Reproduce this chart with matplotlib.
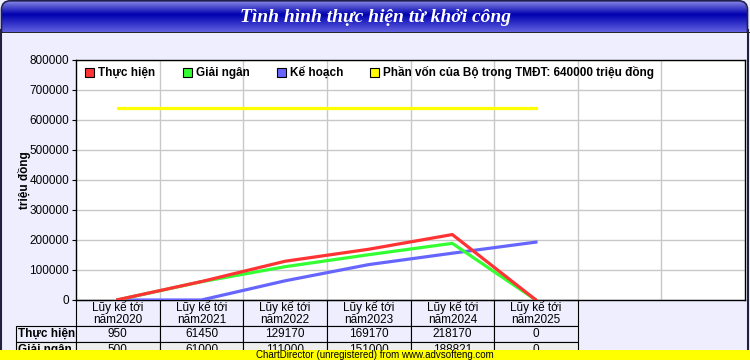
import numpy as np
import matplotlib
matplotlib.use('Agg')
import matplotlib.pyplot as plt
from matplotlib.patches import Rectangle, FancyBboxPatch
from matplotlib.transforms import blended_transform_factory

plt.rcParams['font.family'] = ['Liberation Sans', 'DejaVu Sans']

categories = ['Lũy kế tới\nnăm2020', 'Lũy kế tới\nnăm2021', 'Lũy kế tới\nnăm2022',
              'Lũy kế tới\nnăm2023', 'Lũy kế tới\nnăm2024', 'Lũy kế tới\nnăm2025']
thuc_hien = [950, 61450, 129170, 169170, 218170, 0]
giai_ngan = [500, 61000, 111000, 151000, 188821, 0]
ke_hoach = [0, 0, 64000, 118000, 156000, 193000]
phan_von = [640000] * 6
table_rows = ['Thực hiện', 'Giải ngân']
table_vals = [thuc_hien, giai_ngan]
title = 'Tình hình thực hiện từ khởi công'

W, H = 750, 360
bg = '#EEEEFF'
fig = plt.figure(figsize=(W / 100, H / 100), dpi=100, facecolor=bg)

# title bar with gradient
tax = fig.add_axes([0, 1 - 33 / H, 1, 33 / H])
tax.set_xlim(0, W)
tax.set_ylim(33, 0)
tax.axis('off')
grad = np.linspace(0, 1, 64)
top = np.array([0x90, 0x90, 0xE8]) / 255
mid = np.array([0x00, 0x00, 0xB0]) / 255
bot = np.array([0x60, 0x60, 0xE0]) / 255
cols = []
for g in grad:
    if g < 0.45:
        t = g / 0.45
        cols.append(top * (1 - t) + mid * t)
    else:
        t = (g - 0.45) / 0.55
        cols.append(mid * (1 - t) + bot * t)
img = np.array(cols)[:, None, :]
im = tax.imshow(img, extent=[1, W - 2, 32, 0], aspect='auto')
clip = FancyBboxPatch((2, 1), W - 5, 45, boxstyle='round,pad=0,rounding_size=9',
                      transform=tax.transData, facecolor='none', edgecolor='none')
tax.add_patch(clip)
im.set_clip_path(clip)
tax.add_patch(FancyBboxPatch((1.5, 0.8), W - 4, 45, boxstyle='round,pad=0,rounding_size=9',
                             facecolor='none', edgecolor='#202050', lw=1.2))
tax.plot([0, W], [32.5, 32.5], color='black', lw=1.2)
tax.text(W / 2, 17, title, color='white', ha='center', va='center', fontsize=14,
         family='Liberation Serif', style='italic', fontweight='bold')

# side borders
fig.add_artist(plt.Line2D([0.8 / W, 0.8 / W], [0, 1 - 30 / H], color='#202040', lw=1.5))
fig.add_artist(plt.Line2D([1 - 2 / W, 1 - 2 / W], [0, 1 - 30 / H], color='#202040', lw=1.5))

# main plot area
ax = fig.add_axes([76 / W, 60 / H, 669 / W, 240 / H], facecolor='white')
x = np.arange(len(categories))
ax.plot(x, thuc_hien, color='#FF3333', lw=2.3, zorder=5, label='Thực hiện')
ax.plot(x, giai_ngan, color='#33FF33', lw=2.3, zorder=4, label='Giải ngân')
ax.plot(x, ke_hoach, color='#6666FF', lw=2.3, zorder=3, label='Kế hoạch')
ax.plot(x, phan_von, color='#FFFF00', lw=2.3, zorder=2,
        label='Phần vốn của Bộ trong TMĐT: 640000 triệu đồng')

ax.set_xlim(-0.5, 7.5)
ax.set_ylim(0, 800000)
ax.set_yticks(np.arange(0, 800001, 100000))
ax.set_yticklabels([str(v) for v in range(0, 800001, 100000)], fontsize=8.5)
ax.set_xticks([])
ax.set_xticks(np.arange(0.5, 7.5, 1), minor=True)
ax.tick_params(axis='x', which='minor', length=0)
ax.tick_params(axis='y', length=3, pad=2)
ax.grid(axis='y', color='#C8C8C8', lw=1)
ax.grid(axis='x', which='minor', color='#C8C8C8', lw=1)
ax.set_axisbelow(True)
for s in ax.spines.values():
    s.set_color('black')
    s.set_linewidth(1)
ax.set_ylabel('triệu đồng', fontsize=8.5, fontweight='bold', labelpad=-1)

leg = ax.legend(loc='upper left', ncol=4, frameon=False, fontsize=8.5,
                handlelength=0.8, handleheight=0.8, handletextpad=0.4,
                columnspacing=2.2, bbox_to_anchor=(0.0, 1.01), borderaxespad=0.3)
for h in leg.legend_handles:
    h.set_visible(False)
for t in leg.get_texts():
    t.set_fontweight('bold')
# square legend markers
fig.canvas.draw()
renderer = fig.canvas.get_renderer()
for t, c in zip(leg.get_texts(), ['#FF3333', '#33FF33', '#6666FF', '#FFFF00']):
    bb = t.get_window_extent(renderer)
    fig.add_artist(Rectangle((bb.x0 - 13, (bb.y0 + bb.y1) / 2 - 4.5), 9, 9,
                             transform=None, facecolor=c, edgecolor='black', lw=0.8))

# data table below the axis
tr = blended_transform_factory(ax.transData, ax.transAxes)
px = 1 / 240.0
rows_y = [(0, -26 * px), (-26 * px, -42 * px), (-42 * px, -58 * px)]
label_x0 = -0.5 - 60 / 83.6
for i, cat in enumerate(categories):
    y0, y1 = rows_y[0]
    ax.add_patch(Rectangle((i - 0.5, y1), 1, y0 - y1, transform=tr, clip_on=False,
                           facecolor=bg, edgecolor='black', lw=0.8))
    ax.text(i, (y0 + y1) / 2 - 0.5 * px, cat, transform=tr, ha='center', va='center',
            fontsize=8.5, linespacing=1.0, clip_on=False)
row_bg = ['#EEEEFF', '#EEEEEE']
for r, (name, vals) in enumerate(zip(table_rows, table_vals)):
    y0, y1 = rows_y[r + 1]
    ax.add_patch(Rectangle((label_x0, y1), -0.5 - label_x0, y0 - y1, transform=tr,
                           clip_on=False, facecolor=row_bg[r], edgecolor='black', lw=0.8))
    ax.text(label_x0 + 0.03, (y0 + y1) / 2, name, transform=tr, ha='left', va='center',
            fontsize=8.5, fontweight='bold', clip_on=False)
    for i, v in enumerate(vals):
        ax.add_patch(Rectangle((i - 0.5, y1), 1, y0 - y1, transform=tr, clip_on=False,
                               facecolor=row_bg[r], edgecolor='black', lw=0.8))
        ax.text(i, (y0 + y1) / 2, str(v), transform=tr, ha='center', va='center',
                fontsize=8.5, clip_on=False)

# watermark banner
fig.add_artist(Rectangle((0, 0), 1, 10 / H, transform=fig.transFigure,
                         facecolor='#FFFF00', edgecolor='none', zorder=10))
fig.text(0.5, 5 / H, 'ChartDirector (unregistered) from www.advsofteng.com',
         ha='center', va='center', fontsize=7, zorder=11)

fig.savefig('out.png', dpi=100, facecolor=bg)
